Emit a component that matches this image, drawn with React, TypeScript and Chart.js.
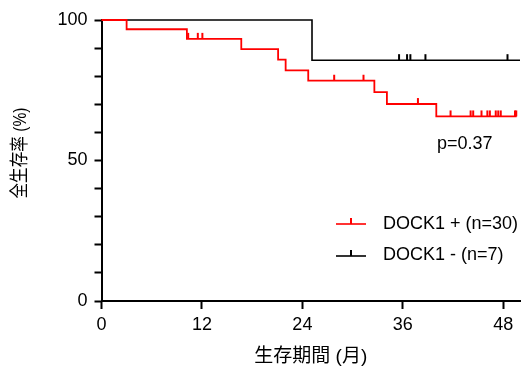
import React, { useEffect, useRef } from "react";
import { Chart, registerables } from "chart.js";

Chart.register(...registerables);

const FONT = "'Liberation Sans', Arial, 'Noto Sans CJK JP', sans-serif";

// DOCK1 + (n=30): event times (months) and survival (%) after each event
const posLabel = "DOCK1 + (n=30)";
const posEventMonths = [3, 10.2, 16.7, 21.1, 22, 24.7, 32.6, 34.1, 40];
const posSurvival = [96.7, 93.3, 89.6, 85.9, 82.1, 78.4, 74.3, 70.1, 65.7];
const posCensorMonths = [10.35, 11.5, 12.05, 27.8, 31.3, 37.8, 41.7, 44.1, 44.4, 45.4, 46.1, 46.4, 47.1, 47.4, 47.7, 49.4, 49.55];
const posEndMonth = 49.6;

// DOCK1 - (n=7)
const negLabel = "DOCK1 - (n=7)";
const negEventMonths = [25.15];
const negSurvival = [85.7];
const negCensorMonths = [35.55, 36.5, 36.9, 38.7, 48.5];
const negEndMonth = 50;

const xTickValues = [0, 12, 24, 36, 48];
const yTickValues = [0, 10, 20, 30, 40, 50, 60, 70, 80, 90, 100];
const yLabelValues = [0, 50, 100];

const xTitle = "生存期間 (月)";
const yTitle = "全生存率 (%)";
const pValueText = "p=0.37";

const RED = "#ff0000";
const BLACK = "#000000";

function stepData(events: number[], surv: number[], end: number) {
  const pts = [{ x: 0, y: 100 }];
  events.forEach((t, i) => pts.push({ x: t, y: surv[i] }));
  pts.push({ x: end, y: surv[surv.length - 1] });
  return pts;
}

function survivalAt(events: number[], surv: number[], t: number) {
  let s = 100;
  events.forEach((e, i) => {
    if (e <= t) s = surv[i];
  });
  return s;
}

function censorData(events: number[], surv: number[], censors: number[]) {
  return censors.map((t) => ({ x: t, y: survivalAt(events, surv, t) }));
}

function tickImage(color: string) {
  const c = document.createElement("canvas");
  c.width = 4;
  c.height = 14;
  const g = c.getContext("2d")!;
  g.fillStyle = color;
  g.fillRect(1, 1, 2, 6);
  return c;
}

export default function App() {
  const ref = useRef<HTMLCanvasElement | null>(null);

  useEffect(() => {
    if (!ref.current) return;
    const redTick = tickImage(RED);
    const blackTick = tickImage(BLACK);

    const overlay = {
      id: "overlay",
      afterDraw(chart: any) {
        const ctx = chart.ctx as CanvasRenderingContext2D;
        ctx.save();
        ctx.fillStyle = "#000";
        // p value
        ctx.font = `18px ${FONT}`;
        ctx.textAlign = "left";
        ctx.textBaseline = "alphabetic";
        ctx.fillText(pValueText, 437, 149);

        // legend
        const items = [
          { label: posLabel, color: RED, lineY: 224, textY: 224 },
          { label: negLabel, color: BLACK, lineY: 256, textY: 255 },
        ];
        items.forEach((it) => {
          ctx.strokeStyle = it.color;
          ctx.lineWidth = 1.6;
          ctx.beginPath();
          ctx.moveTo(336, it.lineY);
          ctx.lineTo(366, it.lineY);
          ctx.stroke();
          ctx.fillStyle = it.color;
          ctx.fillRect(350, it.lineY - 6, 2, 6);
          ctx.fillStyle = "#000";
          ctx.textBaseline = "middle";
          ctx.font = `18px ${FONT}`;
          ctx.fillText(it.label, 383, it.textY);
        });

        // y title
        ctx.translate(21, 153);
        ctx.rotate(-Math.PI / 2);
        ctx.textAlign = "center";
        ctx.textBaseline = "middle";
        ctx.font = `19px ${FONT}`;
        ctx.fillText(yTitle, 0, 0, 91);
        ctx.restore();
      },
    };

    const chart = new Chart(ref.current, {
      type: "line",
      data: {
        datasets: [
          {
            label: posLabel,
            data: stepData(posEventMonths, posSurvival, posEndMonth),
            borderColor: RED,
            borderWidth: 1.8,
            stepped: "before",
            pointRadius: 0,
            fill: false,
            clip: 4,
            order: 1,
          },
          {
            label: negLabel,
            data: stepData(negEventMonths, negSurvival, negEndMonth),
            borderColor: BLACK,
            borderWidth: 1.6,
            stepped: "before",
            pointRadius: 0,
            fill: false,
            clip: 4,
            order: 2,
          },
          {
            label: posLabel + " censored",
            data: censorData(posEventMonths, posSurvival, posCensorMonths),
            showLine: false,
            pointStyle: redTick as any,
            pointRadius: 3,
            clip: 8,
            order: 0,
          },
          {
            label: negLabel + " censored",
            data: censorData(negEventMonths, negSurvival, negCensorMonths),
            showLine: false,
            pointStyle: blackTick as any,
            pointRadius: 3,
            clip: 8,
            order: 0,
          },
        ] as any,
      },
      options: {
        responsive: false,
        animation: false,
        events: [],
        layout: { padding: { top: 20, right: 4, left: 0, bottom: 0 } },
        plugins: {
          legend: { display: false },
          tooltip: { enabled: false },
        },
        scales: {
          x: {
            type: "linear",
            min: 0,
            max: 50,
            afterBuildTicks: (s: any) => {
              s.ticks = xTickValues.map((v) => ({ value: v }));
            },
            afterFit: (s: any) => {
              s.height = 67;
            },
            ticks: {
              font: { size: 18, family: FONT },
              color: "#000",
              padding: 5,
              maxRotation: 0,
              autoSkip: false,
            },
            grid: {
              drawOnChartArea: false,
              drawTicks: true,
              tickLength: 8,
              tickWidth: 2,
              tickColor: "#000",
            },
            border: { display: true, color: "#000", width: 2 },
            title: {
              display: true,
              text: xTitle,
              font: { size: 19, family: FONT },
              color: "#000",
              padding: { top: 0, bottom: 0 },
            },
          },
          y: {
            type: "linear",
            min: 0,
            max: 100,
            afterBuildTicks: (s: any) => {
              s.ticks = yTickValues.map((v) => ({ value: v }));
            },
            afterFit: (s: any) => {
              s.width = 101.5;
            },
            ticks: {
              font: { size: 18, family: FONT },
              color: "#000",
              padding: 7,
              autoSkip: false,
              callback: (v: any) => (yLabelValues.includes(Number(v)) ? String(v) : ""),
            },
            grid: {
              drawOnChartArea: false,
              drawTicks: true,
              tickLength: 7,
              tickWidth: 2,
              tickColor: "#000",
            },
            border: { display: true, color: "#000", width: 2 },
          },
        },
      },
      plugins: [overlay],
    });
    return () => chart.destroy();
  }, []);

  return (
    <div style={{ position: "absolute", left: 0, top: 0, width: 525, height: 368, background: "#fff" }}>
      <canvas ref={ref} width={525} height={368} />
    </div>
  );
}
